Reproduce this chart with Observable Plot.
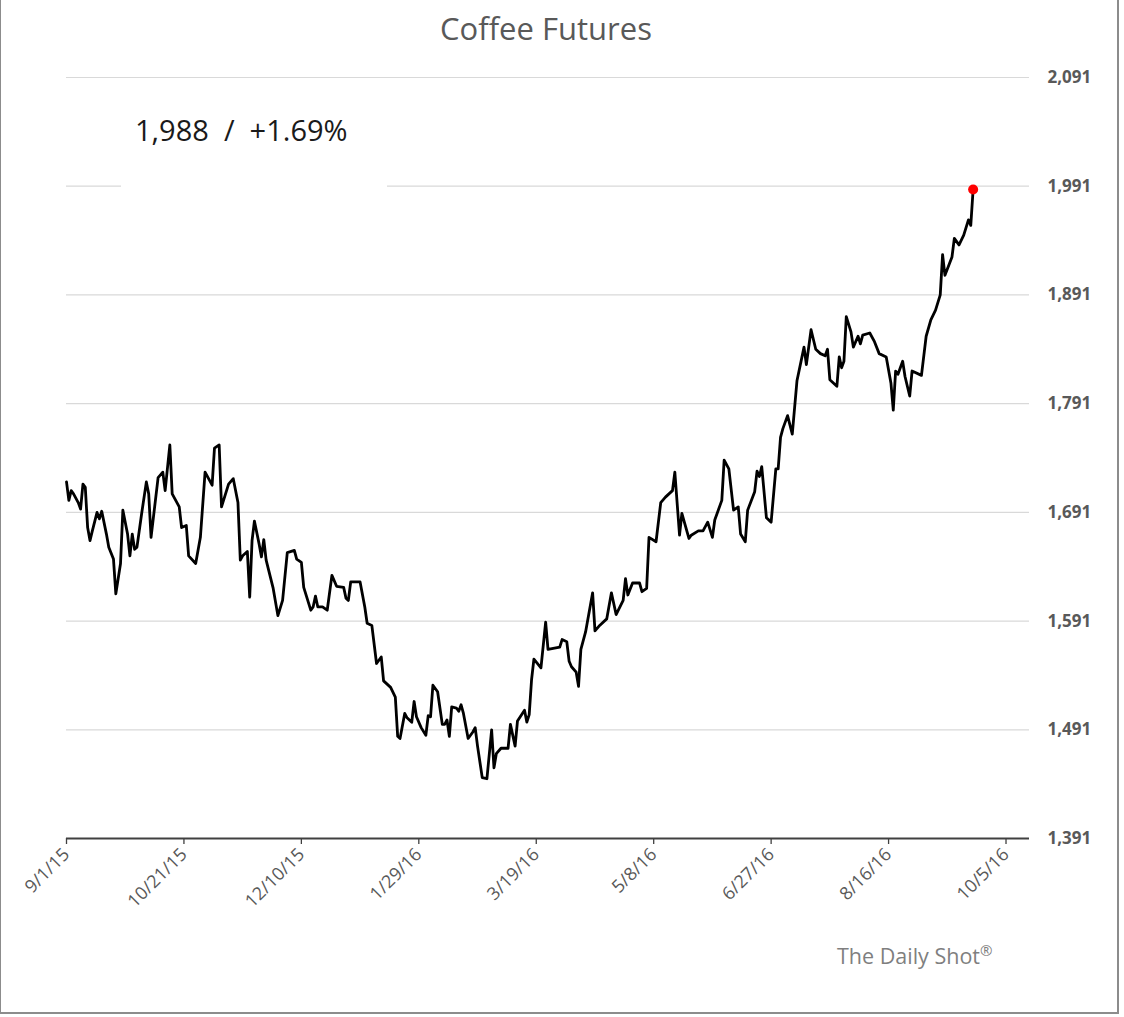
<!DOCTYPE html>
<html>
<head>
<meta charset="utf-8">
<script src="https://cdn.jsdelivr.net/npm/d3@7"></script>
<script src="https://cdn.jsdelivr.net/npm/@observablehq/plot@0.6"></script>
<style>
  body { margin: 0; background: #fff; font-family: "Open Sans", sans-serif; }
  #frame {
    position: relative; width: 1116px; height: 1012px; background: #fff;
    border-left: 1px solid #8c8c8c; border-right: 2px solid #8c8c8c; border-bottom: 2px solid #8c8c8c;
  }
  #title {
    position: absolute; left: 0; top: 6px; width: 1090px; text-align: center;
    font-size: 31px; color: #595959; line-height: 44px;
  }
  #chart { position: absolute; left: 0; top: 50px; }
  #note {
    position: absolute; left: 120px; top: 100px; width: 266px; height: 92px; background: #fff;
    font-size: 29px; color: #1a1a1a; line-height: 60px; padding-left: 14px; box-sizing: border-box;
    white-space: pre;
  }
  #source {
    position: absolute; left: 836px; top: 940px; font-size: 21.5px; color: #7f7f7f;
  }
  #source sup { font-size: 15px; }
</style>
</head>
<body>
<div id="frame">
  <div id="title">Coffee Futures</div>
  <div id="chart"></div>
  <div id="note"></div>
  <div id="source">The Daily Shot<sup>®</sup></div>
</div>
<script>
// Coffee futures, daily closes, Sep 2015 – Sep 2016
const dates = [
  "9/1/15","9/2/15","9/3/15","9/4/15","9/6/15","9/7/15","9/8/15","9/9/15","9/10/15","9/11/15",
  "9/12/15","9/14/15","9/15/15","9/16/15","9/18/15","9/19/15","9/21/15","9/22/15","9/24/15","9/25/15",
  "9/27/15","9/28/15","9/29/15","9/30/15","10/1/15","10/3/15","10/5/15","10/6/15","10/7/15","10/10/15",
  "10/12/15","10/13/15","10/15/15","10/16/15","10/19/15","10/20/15","10/22/15","10/23/15","10/26/15","10/28/15",
  "10/30/15","11/2/15","11/3/15","11/5/15","11/6/15","11/9/15","11/11/15","11/13/15","11/14/15","11/15/15",
  "11/17/15","11/18/15","11/19/15","11/20/15","11/22/15","11/23/15","11/24/15","11/25/15","11/28/15","11/30/15",
  "12/2/15","12/4/15","12/7/15","12/8/15","12/10/15","12/11/15","12/14/15","12/15/15","12/16/15","12/17/15",
  "12/19/15","12/21/15","12/23/15","12/25/15","12/28/15","12/29/15","12/30/15","12/31/15","1/4/16","1/6/16",
  "1/7/16","1/9/16","1/11/16","1/13/16","1/14/16","1/17/16","1/19/16","1/20/16","1/21/16","1/23/16",
  "1/24/16","1/26/16","1/27/16","1/28/16","1/30/16","2/1/16","2/2/16","2/3/16","2/4/16","2/6/16",
  "2/8/16","2/9/16","2/10/16","2/11/16","2/12/16","2/14/16","2/15/16","2/16/16","2/17/16","2/19/16",
  "2/21/16","2/22/16","2/23/16","2/25/16","2/27/16","2/29/16","3/1/16","3/2/16","3/4/16","3/7/16",
  "3/8/16","3/10/16","3/11/16","3/14/16","3/15/16","3/16/16","3/17/16","3/18/16","3/21/16","3/23/16",
  "3/24/16","3/29/16","3/30/16","4/1/16","4/2/16","4/3/16","4/5/16","4/6/16","4/7/16","4/9/16",
  "4/12/16","4/13/16","4/15/16","4/18/16","4/20/16","4/22/16","4/25/16","4/26/16","4/27/16","4/29/16",
  "5/2/16","5/3/16","5/5/16","5/6/16","5/9/16","5/11/16","5/13/16","5/16/16","5/17/16","5/19/16",
  "5/20/16","5/23/16","5/24/16","5/27/16","5/29/16","5/31/16","6/2/16","6/3/16","6/6/16","6/7/16",
  "6/9/16","6/11/16","6/13/16","6/14/16","6/16/16","6/17/16","6/20/16","6/21/16","6/22/16","6/23/16",
  "6/25/16","6/27/16","6/29/16","6/30/16","7/1/16","7/2/16","7/4/16","7/6/16","7/8/16","7/11/16",
  "7/12/16","7/14/16","7/16/16","7/18/16","7/20/16","7/21/16","7/22/16","7/25/16","7/26/16","7/27/16",
  "7/28/16","7/29/16","7/31/16","8/1/16","8/3/16","8/4/16","8/5/16","8/8/16","8/10/16","8/12/16",
  "8/15/16","8/17/16","8/18/16","8/19/16","8/20/16","8/22/16","8/23/16","8/25/16","8/26/16","8/30/16",
  "9/1/16","9/3/16","9/5/16","9/7/16","9/8/16","9/9/16","9/12/16","9/13/16","9/15/16","9/17/16",
  "9/19/16","9/20/16","9/21/16"
];
const closes = [
  1719,1702,1711,1708,1700,1694,1717,1714,1677,1665,
  1674,1691,1685,1692,1671,1659,1648,1616,1644,1693,
  1671,1651,1671,1657,1659,1690,1719,1708,1668,1723,
  1728,1711,1753,1708,1696,1677,1679,1651,1644,1668,
  1728,1716,1750,1753,1696,1717,1722,1700,1647,1651,
  1655,1613,1665,1683,1662,1650,1666,1647,1621,1596,
  1610,1654,1656,1648,1645,1622,1601,1604,1614,1604,
  1604,1601,1633,1623,1622,1612,1610,1627,1627,1604,
  1589,1587,1552,1558,1536,1530,1521,1485,1483,1506,
  1502,1498,1517,1503,1493,1486,1504,1503,1532,1526,
  1496,1496,1500,1485,1512,1511,1508,1514,1506,1483,
  1489,1493,1476,1447,1446,1491,1456,1469,1474,1474,
  1496,1476,1499,1509,1498,1505,1537,1556,1548,1590,
  1565,1567,1574,1572,1554,1549,1544,1531,1565,1581,
  1617,1582,1587,1593,1617,1597,1610,1630,1615,1626,
  1626,1618,1621,1668,1664,1700,1705,1711,1728,1670,
  1690,1667,1670,1674,1674,1682,1668,1684,1702,1739,
  1731,1693,1696,1671,1664,1693,1710,1729,1724,1733,
  1686,1682,1731,1731,1760,1768,1780,1763,1812,1843,
  1827,1859,1841,1837,1835,1841,1813,1807,1834,1824,
  1830,1871,1857,1843,1853,1846,1854,1856,1848,1837,
  1834,1810,1785,1821,1818,1830,1816,1798,1821,1817,
  1853,1868,1877,1891,1928,1909,1926,1943,1937,1946,
  1960,1955,1988
];

// Axis setup
const yTicks = [1391, 1491, 1591, 1691, 1791, 1891, 1991, 2091];
const xTicks = ["9/1/15", "10/21/15", "12/10/15", "1/29/16", "3/19/16", "5/8/16", "6/27/16", "8/16/16", "10/5/16"];
const xDomain = ["9/1/15", "10/15/16"];

const parse = d3.timeParse("%m/%d/%y");
const series = dates.map((d, i) => ({date: parse(d), close: closes[i]}));
const last = series[series.length - 1];
const prev = series[series.length - 2];
const change = last.close / prev.close - 1;

const fmtComma = d3.format(",");
document.getElementById("note").textContent =
  `${fmtComma(last.close)}  /  ${d3.format("+.2%")(change)}`;

const chart = Plot.plot({
  width: 1116,
  height: 870,
  marginTop: 27,
  marginBottom: 82,
  marginLeft: 65,
  marginRight: 88,
  style: {fontFamily: "'Open Sans', sans-serif", background: "transparent", overflow: "visible"},
  x: {type: "time", domain: xDomain.map(parse)},
  y: {domain: [yTicks[0], yTicks[yTicks.length - 1]]},
  marks: [
    Plot.ruleY(yTicks.slice(1), {stroke: "#d9d9d9", strokeWidth: 1.2}),
    Plot.axisY({
      anchor: "right", ticks: yTicks, tickSize: 0, tickPadding: 18,
      tickFormat: fmtComma, fontSize: 17, fontWeight: "bold", fill: "#595959", label: null
    }),
    Plot.axisX({
      ticks: xTicks.map(parse), tickFormat: d3.timeFormat("%-m/%-d/%y"),
      tickRotate: -45, tickSize: 6, tickPadding: 7, stroke: "#404040", strokeWidth: 1.3,
      fontSize: 18, fill: "#595959", label: null
    }),
    Plot.ruleY([yTicks[0]], {stroke: "#404040", strokeWidth: 1.8}),
    Plot.line(series, {x: "date", y: "close", stroke: "#000", strokeWidth: 2.8, strokeLinejoin: "round"}),
    Plot.dot([last], {x: "date", y: "close", r: 5, fill: "#ff0000", stroke: "none"})
  ]
});
document.getElementById("chart").append(chart);
</script>
</body>
</html>
